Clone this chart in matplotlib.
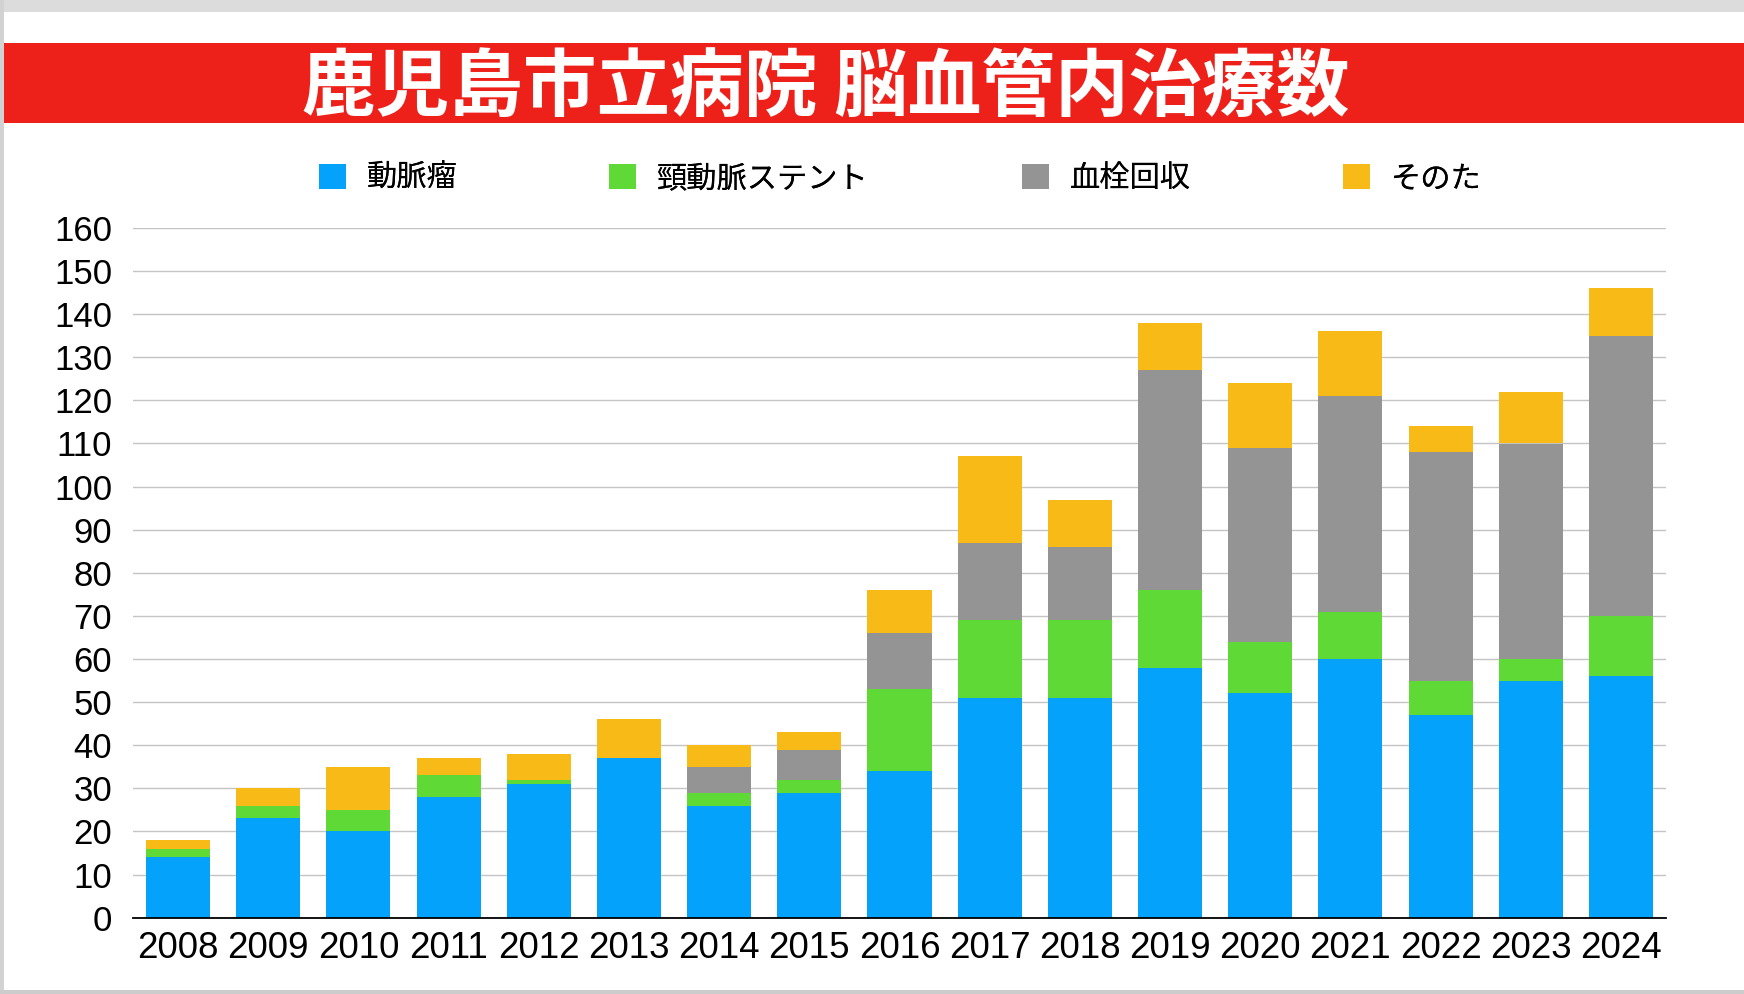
import matplotlib
matplotlib.use("Agg")
import matplotlib.pyplot as plt
from matplotlib.patches import Rectangle
import numpy as np

years = ["2008", "2009", "2010", "2011", "2012", "2013", "2014", "2015", "2016",
         "2017", "2018", "2019", "2020", "2021", "2022", "2023", "2024"]
aneurysm = [14, 23, 20, 28, 31, 37, 26, 29, 34, 51, 51, 58, 52, 60, 47, 55, 56]
carotid_stent = [2, 3, 5, 5, 1, 0, 3, 3, 19, 18, 18, 18, 12, 11, 8, 5, 14]
thrombectomy = [0, 0, 0, 0, 0, 0, 6, 7, 13, 18, 17, 51, 45, 50, 53, 50, 65]
other = [2, 4, 10, 4, 6, 9, 5, 4, 10, 20, 11, 11, 15, 15, 6, 12, 11]

series_names = ["動脈瘤", "頸動脈ステント", "血栓回収", "そのた"]
series_colors = ["#05A2FC", "#5FD935", "#949494", "#F8BA17"]
title_text = "鹿児島市立病院 脳血管内治療数"
yticks = list(range(0, 161, 10))

W, H = 1744, 994
fig = plt.figure(figsize=(W / 100, H / 100), dpi=100)
fig.patch.set_facecolor("white")

# page frame
fig.patches.append(Rectangle((0, 1 - 12 / H), 1, 12 / H, transform=fig.transFigure,
                             facecolor="#dcdcdc", edgecolor="none", zorder=0))
fig.patches.append(Rectangle((0, 0), 4 / W, 1, transform=fig.transFigure,
                             facecolor="#d2d2d2", edgecolor="none", zorder=0))
fig.patches.append(Rectangle((0, 0), 1, 4 / H, transform=fig.transFigure,
                             facecolor="#cccccc", edgecolor="none", zorder=0))
# red title band
fig.patches.append(Rectangle((4 / W, 1 - 123 / H), 1 - 4 / W, 80 / H, transform=fig.transFigure,
                             facecolor="#EE211A", edgecolor="none", zorder=1))
fig.text(826 / W, 1 - 89 / H, title_text, color="white", fontsize=53, fontweight="bold",
         family=["Noto Sans CJK JP", "DejaVu Sans"], ha="center", va="center", zorder=2)

ax = fig.add_axes([133 / W, 1 - 917.6 / H, (1666 - 133) / W, (917.6 - 228) / H])
x = np.arange(len(years))
bottom = np.zeros(len(years))
handles = []
for vals, name, col in zip([aneurysm, carotid_stent, thrombectomy, other], series_names, series_colors):
    b = ax.bar(x, vals, width=0.71, bottom=bottom, color=col, label=name, zorder=3)
    handles.append(b)
    bottom = bottom + np.array(vals)

ax.set_xlim(-0.5, len(years) - 0.5)
ax.set_ylim(0, 160)
ax.set_yticks(yticks)
ax.set_xticks(x)
ax.set_xticklabels(years)
ax.yaxis.grid(True, color="#c4c4c4", linewidth=1.0, zorder=0)
ax.set_axisbelow(True)
for s in ["top", "right", "left"]:
    ax.spines[s].set_visible(False)
ax.spines["bottom"].set_color("black")
ax.spines["bottom"].set_linewidth(1.3)
ax.spines["bottom"].set_zorder(4)
ax.tick_params(axis="both", length=0, labelsize=25, colors="black")
ax.tick_params(axis="x", labelsize=26.5, pad=10)
ax.tick_params(axis="y", pad=15)
for lab in ax.get_xticklabels() + ax.get_yticklabels():
    lab.set_family(["Liberation Sans", "DejaVu Sans"])

# legend entries
legend_x = [319, 609, 1022, 1343]
for h, name, lx in zip(handles, series_names, legend_x):
    lg = fig.legend([h], [name], loc="center left", bbox_to_anchor=(lx / W, 1 - 178.5 / H),
                    frameon=False, borderpad=0, borderaxespad=0, handlelength=0.9,
                    handleheight=0.9, handletextpad=0.67,
                    prop={"family": ["Noto Sans CJK JP", "DejaVu Sans"], "size": 21.8})
    fig.add_artist(lg)

fig.savefig("out.png", dpi=100, facecolor="white")
